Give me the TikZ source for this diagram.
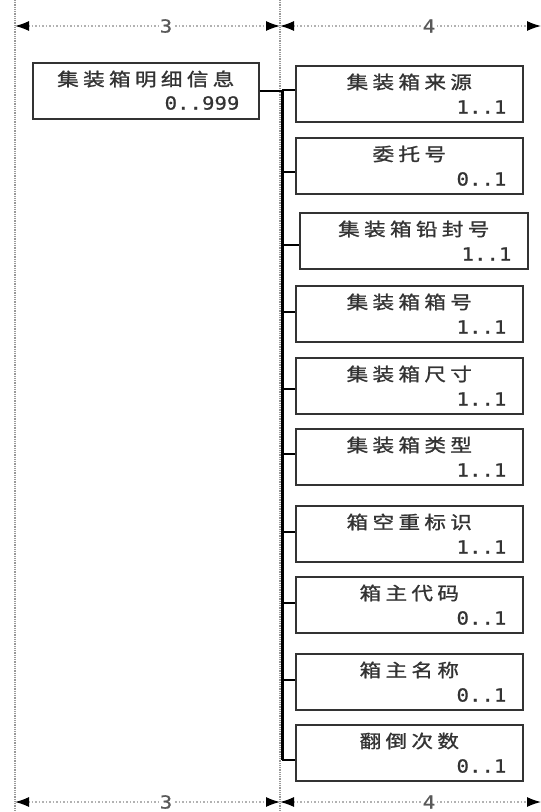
\documentclass[tikz,border=0pt]{standalone}
\usepackage{fontspec}
\usetikzlibrary{arrows.meta,calc}
\newfontfamily\cjkfont[FakeStretch=1.2,LetterSpace=24,FakeBold=1.2]{Noto Sans CJK SC}
\newfontfamily\numfont[FakeStretch=1.15,FakeBold=0.8]{DejaVu Sans Mono}
\begin{document}
\begin{tikzpicture}[x=1pt,y=-1pt,
  guide/.style={draw=gray!80,line width=2pt,dash pattern=on 1pt off 0.8pt},
  dimline/.style={draw=gray!60,line width=1.3pt,dash pattern=on 1.5pt off 2pt,
     {Latex[black,length=14pt,width=10pt]}-{Latex[black,length=14pt,width=10pt]}},
  dimlabel/.style={fill=white,inner sep=1pt,text=gray!70!black,font=\numfont\fontsize{18}{18}\selectfont},
  box/.style={draw=black!80,line width=1.6pt,anchor=north west,minimum height=56pt,inner sep=0pt},
  ttl/.style={font=\cjkfont\fontsize{18}{18}\selectfont,text=black!80,inner sep=0pt},
  num/.style={font=\numfont\fontsize{18}{18}\selectfont,text=black!80,inner sep=0pt,anchor=east},
  conn/.style={draw=black,line width=2pt},
  trunkline/.style={draw=black,line width=3pt}]
\useasboundingbox (0,0) rectangle (541,812);
\fill[white] (0,0) rectangle (541,812);
% guide lines
\coordinate (gLt) at (15,0);   \coordinate (gLb) at (15,812);
\coordinate (gMt) at (280,0);  \coordinate (gMb) at (280,812);
\draw[guide] (gLt) -- (gLb);
\draw[guide] (gMt) -- (gMb);
% dimension lines
\coordinate (dTL) at (15,26); \coordinate (dTM) at (280,26); \coordinate (dTR) at (541,26);
\coordinate (dBL) at (15,802); \coordinate (dBM) at (280,802); \coordinate (dBR) at (541,802);
\draw[dimline] (dTL) -- (dTM);
\draw[dimline] (dTM) -- (dTR);
\draw[dimline] (dBL) -- (dBM);
\draw[dimline] (dBM) -- (dBR);
\node[dimlabel] (l3t) at (166,26) {3};
\node[dimlabel] (l4t) at (429,26) {4};
\node[dimlabel] (l3b) at (166,802) {3};
\node[dimlabel] (l4b) at (429,802) {4};
% parent
\node[box,minimum width=226pt] (p) at (32,62) {};
\node[ttl] (pt) at ($(p.north)+(0,17)$) {集装箱明细信息};
\node[num] (pn) at ($(p.north east)+(-20,41)$) {0..999};
% children
\foreach \n/\t/\m/\x/\y/\w/\cy in {
  1/集装箱来源/1..1/295/65/227/90,
  2/委托号/0..1/295/137/227/172,
  3/集装箱铅封号/1..1/299/212/228/245,
  4/集装箱箱号/1..1/295/285/227/312,
  5/集装箱尺寸/1..1/295/357/227/389,
  6/集装箱类型/1..1/295/428/227/454,
  7/箱空重标识/1..1/295/505/227/532,
  8/箱主代码/0..1/295/576/227/603,
  9/箱主名称/0..1/295/653/227/680,
  10/翻倒次数/0..1/295/724/227/760}{
  \node[box,minimum width=\w pt] (c\n) at (\x,\y) {};
  \node[ttl] (ct\n) at ($(c\n.north)+(0,17)$) {\t};
  \node[num] (cn\n) at ($(c\n.north east)+(-17,42)$) {\m};
  \coordinate (j\n) at (282,\cy);
  \draw[conn] (j\n) -- (c\n.west |- j\n);
}
\draw[conn] (p.east) -- (p.east -| j1);
\draw[trunkline] (j1) -- (j10);
\end{tikzpicture}
\end{document}
